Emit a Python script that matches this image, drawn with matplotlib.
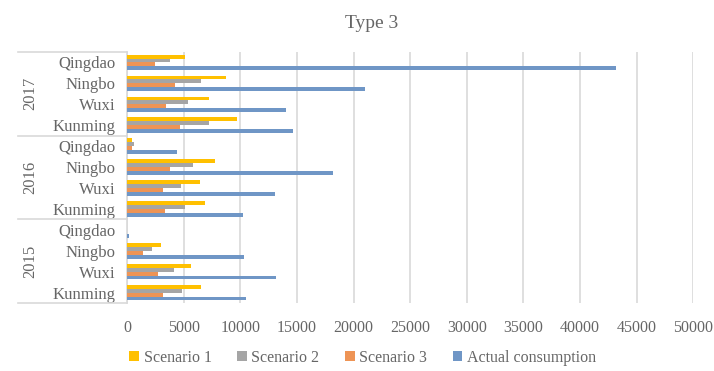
import matplotlib.pyplot as plt
import numpy as np

plt.rcParams['font.family'] = ['Liberation Serif', 'DejaVu Serif']

years = ['2015', '2016', '2017']
cities = ['Kunming', 'Wuxi', 'Ningbo', 'Qingdao']

# values ordered 2015 Kunming ... 2017 Qingdao (bottom to top)
scenario1 = [6560, 5650, 2970, 0,
             6910, 6470, 7800, 450,
             9740, 7210, 8770, 5120]
scenario2 = [4880, 4180, 2200, 0,
             5120, 4800, 5800, 650,
             7270, 5390, 6530, 3820]
scenario3 = [3200, 2770, 1410, 0,
             3350, 3150, 3820, 400,
             4710, 3470, 4240, 2500]
actual = [10510, 13120, 10300, 200,
          10240, 13040, 18190, 4450,
          14690, 14000, 21000, 43200]

series = [('Scenario 1', scenario1, '#FFC000'),
          ('Scenario 2', scenario2, '#A5A5A5'),
          ('Scenario 3', scenario3, '#EE9455'),
          ('Actual consumption', actual, '#6F96C6')]

text_color = '#666666'
line_color = '#D9D9D9'


def main():
    fig = plt.figure(figsize=(7.14, 3.71), dpi=100)
    ax = fig.add_axes([0.178, 0.183, 0.793, 0.677])

    y = np.arange(len(actual))
    h = 0.185
    offsets = [1.5 * h, 0.5 * h, -0.5 * h, -1.5 * h]
    for (name, vals, col), off in zip(series, offsets):
        ax.barh(y + off, vals, height=h, color=col, label=name, zorder=3)

    ax.set_xlim(0, 50000)
    ax.set_ylim(-0.5, len(actual) - 0.5)
    ax.set_xticks(np.arange(0, 50001, 5000))
    ax.grid(axis='x', color=line_color, linewidth=1.2, zorder=0)
    ax.set_yticks(y)
    ax.set_yticklabels(cities * len(years))
    ax.tick_params(axis='y', length=0, pad=8, labelsize=12, labelcolor=text_color)
    ax.tick_params(axis='x', length=0, pad=12, labelsize=11.5, labelcolor=text_color)
    for side in ['top', 'right', 'bottom']:
        ax.spines[side].set_visible(False)
    ax.spines['left'].set_color(line_color)
    ax.spines['left'].set_linewidth(1.2)

    # year group separators and labels on the category axis
    trans = ax.get_yaxis_transform()
    for b in np.arange(-0.5, len(actual), 4):
        ax.plot([-0.193, 0], [b, b], color=line_color, lw=1.2,
                transform=trans, clip_on=False)
    for i, yr in enumerate(years):
        ax.text(-0.171, 4 * i + 1.5, yr, transform=trans, rotation=90,
                ha='center', va='center', fontsize=12, color=text_color)

    fig.suptitle('Type 3', y=0.96, x=0.52, fontsize=14, color=text_color)
    ax.legend(loc='center', bbox_to_anchor=(0.508, 0.035), bbox_transform=fig.transFigure,
              ncol=4, frameon=False, fontsize=11.5, labelcolor=text_color,
              handlelength=0.6, handleheight=0.6, handletextpad=0.3,
              columnspacing=1.6)

    fig.savefig('out.png', dpi=100)


if __name__ == "__main__":
    main()
